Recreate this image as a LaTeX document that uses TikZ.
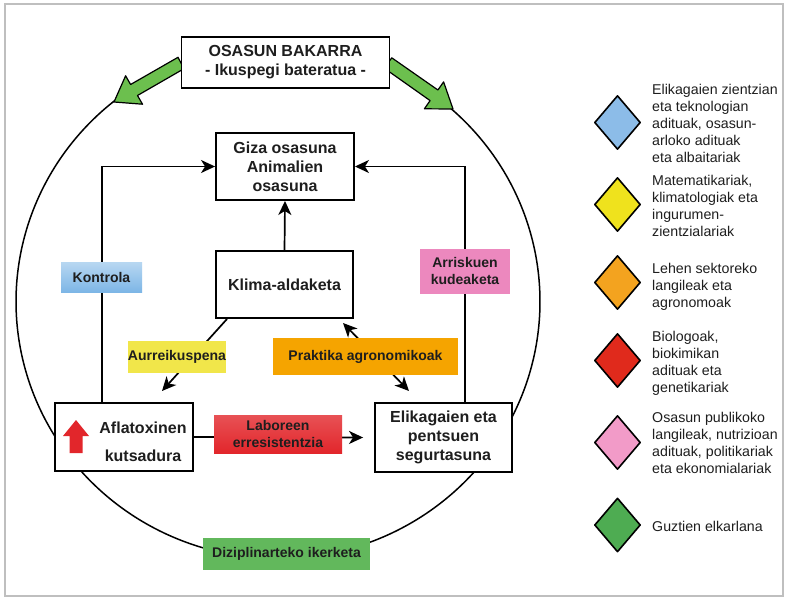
\documentclass[tikz,border=0pt]{standalone}
\usepackage{fontspec}
\setmainfont{Liberation Sans}
\usetikzlibrary{arrows.meta,calc,shapes.geometric}
\definecolor{gfill}{HTML}{6CBF4E}
\definecolor{kblue}{HTML}{7DB6E6}
\definecolor{kpink}{HTML}{EC88BE}
\definecolor{kyellow}{HTML}{F1E64A}
\definecolor{korange}{HTML}{F5A400}
\definecolor{kred}{HTML}{E2262B}
\definecolor{kgreen}{HTML}{62B85C}
\definecolor{dblue}{HTML}{8CBCE8}
\definecolor{dyellow}{HTML}{EFE21D}
\definecolor{dorange}{HTML}{F3A31F}
\definecolor{dred}{HTML}{E02A1C}
\definecolor{dpink}{HTML}{F29BC8}
\definecolor{dgreen}{HTML}{4EAC52}
\definecolor{txt}{HTML}{1E1E1E}
\tikzset{
  mainbox/.style={draw, line width=1.9pt, fill=white, align=center, inner sep=0pt,
    font=\bfseries\fontsize{16}{19}\selectfont, text=txt},
  tag/.style={align=center, inner sep=0pt, font=\bfseries\fontsize{14}{16.5}\selectfont, text=txt},
  conn/.style={line width=1.7pt},
  arr/.style={conn, -{Stealth[length=14pt,width=13pt,inset=4pt]}},
  dblarr/.style={conn, {Stealth[length=14pt,width=13pt,inset=4pt]}-{Stealth[length=14pt,width=13pt,inset=4pt]}},
  gem/.style={diamond, draw, line width=1.6pt, line join=round, inner sep=0pt,
    minimum width=46pt, minimum height=54pt},
  legtext/.style={anchor=west, align=left, inner sep=0pt,
    font=\fontsize{14.2}{16.8}\selectfont, text=txt},
  bigarrow/.style={draw, line width=1.2pt, line join=round, fill=gfill}
}
\begin{document}
\begin{tikzpicture}[x=1pt,y=-1pt]
\useasboundingbox (0,0) rectangle (786,599);
\fill[white] (0,0) rectangle (786,599);
\draw[line width=1.2pt, black!25] (5,4) rectangle (783,596);

% big ellipse arc
\draw[line width=1.5pt] plot[domain=-49:231.5, samples=160, smooth]
  ({278+262*cos(\x)},{301.6+257*sin(\x)});

% green arrows
\draw[bigarrow] (178,57.3) -- (130.6,84.5) -- (125.6,75.8) -- (114,102)
  -- (142.5,104.2) -- (137.5,95.5) -- (184,68.7) -- cycle;
\draw[bigarrow] (391.75,57.8) -- (437.9,90.0) -- (443.6,81.9) -- (453,109)
  -- (424.4,108.8) -- (430.1,100.6) -- (384.25,68.2) -- cycle;

% boxes
\node[mainbox, minimum width=208pt, minimum height=51pt] (top) at (285.5,62.5)
  {\fontsize{16}{20}\selectfont OSASUN BAKARRA\\ - Ikuspegi bateratua -};
\node[mainbox, minimum width=138pt, minimum height=67pt] (giza) at (285,166.5)
  {Giza osasuna\\ Animalien\\ osasuna};
\node[mainbox, minimum width=137pt, minimum height=67pt] (klima) at (284.5,284.5)
  {Klima-aldaketa};
\node[mainbox, minimum width=138pt, minimum height=68pt] (afla) at (124,437)
  {};
\node[tag, font=\bfseries\fontsize{16}{28.5}\selectfont] (aflat) at (143,442) {Aflatoxinen\\ kutsadura};
\node[mainbox, minimum width=137pt, minimum height=69pt] (elik) at (443.5,437.5)
  {Elikagaien eta\\ pentsuen\\ segurtasuna};

% red up arrow
\fill[kred] (63,436) -- (76,420) -- (89,436) -- (82.5,436) -- (82.5,453)
  -- (69.5,453) -- (69.5,436) -- cycle;

% coordinates of free ends
\coordinate (aurtip) at (162,391);
\coordinate (praktop) at (343,323);
\coordinate (prakbot) at (409,391);

% connectors
\draw[arr] (klima.north) -- (giza.south);
\draw[arr] ($(afla.north west)+(48,0)$) |- (giza.west);
\draw[arr] ($(elik.north west)+(91,0)$) |- (giza.east);
\draw[arr] (afla.east) -- ($(elik.west)+(-11,0)$);
\draw[arr] ($(klima.south west)+(12,0)$) -- (aurtip);
\draw[dblarr] (praktop) -- (prakbot);

% coloured labels
\node[tag, minimum width=81pt, minimum height=30pt, top color=kblue!55, bottom color=kblue]
  (kontrola) at (101.5,277) {Kontrola};
\node[tag, minimum width=90pt, minimum height=45pt, fill=kpink]
  (arriskuen) at (465,271) {Arriskuen\\ kudeaketa};
\node[tag, minimum width=88pt, minimum height=32pt, fill=kyellow]
  (aurre) at (177,357) {Aurreikuspena};
\node[tag, minimum width=185pt, minimum height=37pt, fill=korange]
  (prak) at (365.5,356.5) {Praktika agronomikoak};
\node[tag, minimum width=128pt, minimum height=38pt, top color=kred!80, bottom color=kred]
  (labor) at (278,434) {Laboreen\\ erresistentzia};
\node[tag, minimum width=167pt, minimum height=32pt, fill=kgreen]
  (dizi) at (286.5,554) {Diziplinarteko ikerketa};

% legend
\node[gem, fill=dblue]   (g1) at (617.5,122.5) {};
\node[gem, fill=dyellow] (g2) at (617.5,204.5) {};
\node[gem, fill=dorange] (g3) at (617.5,282.5) {};
\node[gem, fill=dred]    (g4) at (617.5,360.5) {};
\node[gem, fill=dpink]   (g5) at (617.5,442.5) {};
\node[gem, fill=dgreen]  (g6) at (617.5,525) {};

\node[legtext] (l1) at (652,123.5) {Elikagaien zientzian\\ eta teknologian\\ adituak, osasun-\\ arloko adituak\\ eta albaitariak};
\node[legtext] (l2) at (652,206) {Matematikariak,\\ klimatologiak eta\\ ingurumen-\\ zientzialariak};
\node[legtext] (l3) at (652,287) {Lehen sektoreko\\ langileak eta\\ agronomoak};
\node[legtext] (l4) at (652,363.5) {Biologoak,\\ biokimikan\\ adituak eta\\ genetikariak};
\node[legtext] (l5) at (652,443) {Osasun publikoko\\ langileak, nutrizioan\\ adituak, politikariak\\ eta ekonomialariak};
\node[legtext] (l6) at (652,526) {Guztien elkarlana};
\end{tikzpicture}
\end{document}
